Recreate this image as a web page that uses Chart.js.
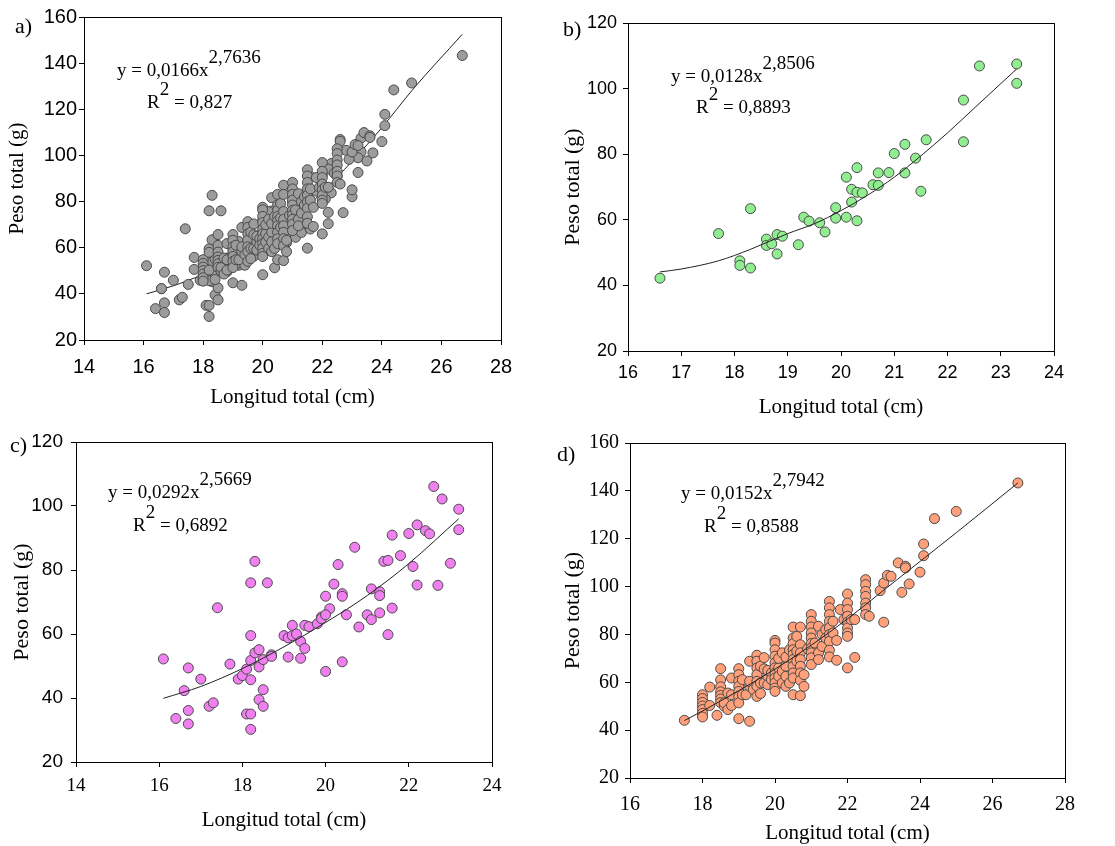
<!DOCTYPE html>
<html>
<head>
<meta charset="utf-8">
<script src="https://cdn.jsdelivr.net/npm/chart.js@4.4.1/dist/chart.umd.min.js"></script>
<style>
  body { margin: 0; background: #fff; width: 1115px; height: 846px; position: relative; overflow: hidden; }
  canvas { position: absolute; }
</style>
</head>
<body>
<canvas id="chartA" width="557" height="420" style="left:0;top:0"></canvas>
<canvas id="chartB" width="558" height="420" style="left:557px;top:0"></canvas>
<canvas id="chartC" width="557" height="426" style="left:0;top:420px"></canvas>
<canvas id="chartD" width="558" height="426" style="left:557px;top:420px"></canvas>
<script>
// b) longitud / peso
const bLen = [16.6, 17.7, 18.3, 18.1, 18.1, 18.3, 18.6, 18.6, 18.7, 18.8, 18.8, 18.9, 19.2, 19.3, 19.4, 19.6, 19.7, 19.9, 19.9, 20.1,
              20.1, 20.2, 20.2, 20.3, 20.3, 20.3, 20.4, 20.6, 20.7, 20.7, 20.9, 21.0, 21.2, 21.2, 21.4, 21.5, 21.6, 22.3, 22.3, 22.6,
              23.3, 23.3];
const bWt  = [42.2, 55.8, 63.4, 47.5, 46.1, 45.3, 54.1, 52.2, 52.7, 55.5, 49.6, 55.0, 52.4, 60.8, 59.6, 59.1, 56.3, 63.7, 60.5, 73.0,
              60.8, 69.3, 65.4, 75.9, 68.4, 59.7, 68.2, 70.7, 74.3, 70.5, 74.4, 80.2, 83.0, 74.3, 78.8, 68.7, 84.4, 96.5, 83.8, 106.9,
              107.5, 101.6];

// c) longitud / peso
const cLen = [16.1, 16.4, 16.6, 16.7, 16.7, 16.7, 17.0, 17.2, 17.3, 17.4, 17.7, 17.9, 18.0, 18.1, 18.1, 18.2, 18.2, 18.2, 18.2, 18.2,
              18.2, 18.3, 18.3, 18.4, 18.4, 18.4, 18.5, 18.5, 18.5, 18.6, 18.7, 18.7, 19.0, 19.1, 19.1, 19.2, 19.2, 19.3, 19.4, 19.4,
              19.5, 19.5, 19.6, 19.8, 19.9, 19.9, 20.0, 20.0, 20.1, 20.0, 20.2, 20.3, 20.4, 20.4, 20.4, 20.5, 20.7, 20.8, 21.0, 21.1,
              21.1, 21.3, 21.3, 21.3, 21.4, 21.5, 21.5, 21.6, 21.6, 21.8, 22.0, 22.1, 22.2, 22.2, 22.4, 22.5, 22.6, 22.7, 22.8, 23.0,
              23.2, 23.2];
const cWt  = [52.2, 33.6, 42.3, 49.4, 36.1, 31.9, 45.9, 37.4, 38.5, 68.2, 50.6, 45.9, 47.0, 49.0, 35.0, 76.0, 59.5, 51.7, 45.7, 35.0,
              30.2, 82.7, 54.1, 55.1, 49.7, 39.5, 52.0, 42.6, 37.4, 76.0, 53.5, 53.0, 59.5, 58.8, 52.8, 62.7, 59.5, 60.0, 57.7, 52.4,
              62.7, 55.5, 62.3, 63.2, 65.3, 64.8, 71.8, 48.3, 67.9, 66.0, 75.6, 81.7, 72.6, 71.8, 51.3, 66.0, 87.1, 62.2, 66.0, 74.1,
              64.5, 73.2, 72.0, 66.6, 82.7, 83.0, 59.8, 90.9, 68.1, 84.5, 91.4, 81.1, 94.1, 75.3, 92.3, 91.3, 106.1, 75.2, 102.2, 82.1,
              99.0, 92.6];

// d) longitud / peso
const dLen = [17.5,
              18.0, 18.0, 18.0, 18.0, 18.0, 18.0, 18.0, 18.2, 18.2, 18.4,
              18.5, 18.5, 18.5, 18.5, 18.5, 18.5, 18.5, 18.6, 18.6, 18.7, 18.7, 18.8, 18.8, 18.8,
              19.0, 19.0, 19.0, 19.0, 19.0, 19.0, 19.0, 19.0, 19.1, 19.1, 19.2, 19.3, 19.3, 19.3, 19.3, 19.4,
              19.5, 19.5, 19.5, 19.5, 19.5, 19.5, 19.5, 19.6, 19.6, 19.6, 19.7, 19.7, 19.7, 19.8, 19.8, 19.8, 19.9, 19.9,
              20.0, 20.0, 20.0, 20.0, 20.0, 20.0, 20.0, 20.0, 20.0, 20.0, 20.0, 20.1, 20.1, 20.1, 20.2, 20.2, 20.2,
              20.3, 20.3, 20.3, 20.3, 20.4, 20.4,
              20.5, 20.5, 20.5, 20.5, 20.5, 20.5, 20.5, 20.5, 20.5, 20.5, 20.6, 20.6, 20.6,
              20.7, 20.7, 20.7, 20.7, 20.7, 20.7, 20.7, 20.7, 20.8, 20.8, 20.9,
              21.0, 21.0, 21.0, 21.0, 21.0, 21.0, 21.0, 21.0, 21.0, 21.0, 21.1, 21.2, 21.2, 21.2, 21.3, 21.3, 21.4, 21.4,
              21.5, 21.5, 21.5, 21.5, 21.5, 21.5, 21.5, 21.5, 21.5, 21.6, 21.6, 21.7, 21.7, 21.8, 21.9,
              22.0, 22.0, 22.0, 22.0, 22.0, 22.0, 22.0, 22.0, 22.0, 22.1, 22.2, 22.2,
              22.5, 22.5, 22.5, 22.5, 22.5, 22.5, 22.5, 22.6, 22.9, 23.0, 23.0, 23.1, 23.2, 23.4, 23.5, 23.6, 23.6, 23.7,
              24.0, 24.1, 24.1, 24.4, 25.0, 26.7];
const dWt  = [44.1,
              54.8, 53.2, 51.6, 50.1, 48.6, 47.0, 45.5, 58.0, 50.3, 46.2,
              65.7, 61.0, 58.1, 56.0, 54.5, 53.0, 51.5, 50.0, 51.4, 55.5, 48.6, 61.8, 54.8, 50.3,
              65.7, 63.2, 60.4, 58.3, 56.2, 54.1, 51.4, 44.8, 54.8, 61.1, 54.8, 68.8, 58.3, 43.7, 60.4, 57.0,
              71.3, 68.8, 66.0, 63.2, 60.4, 58.3, 54.1, 66.7, 59.7, 55.3, 70.3, 65.6, 59.7, 62.5, 59.0, 65.0, 63.9, 61.1,
              77.5, 76.4, 73.6, 70.9, 68.1, 66.0, 63.9, 61.8, 59.7, 57.6, 56.2, 66.0, 62.5, 70.0, 72.3, 64.6, 59.7,
              66.7, 58.3, 62.5, 70.5, 73.6, 59.7,
              83.1, 78.5, 76.2, 73.6, 71.6, 69.5, 66.7, 63.9, 61.8, 54.8, 79.2, 73.0, 68.8,
              83.1, 75.7, 72.3, 69.5, 66.7, 63.9, 60.8, 54.4, 63.2, 58.3, 74.0,
              88.3, 85.5, 83.1, 80.6, 78.5, 76.2, 74.3, 72.3, 70.2, 67.4, 76.4, 83.4, 72.3, 69.5, 75.0, 80.0, 82.0, 78.5,
              93.8, 91.1, 88.3, 85.5, 82.7, 79.9, 77.1, 73.4, 70.6, 85.5, 80.6, 77.5, 69.2, 90.4, 86.2,
              96.9, 93.1, 90.4, 87.6, 85.1, 82.7, 80.6, 79.2, 66.0, 86.2, 86.2, 70.4,
              102.9, 100.8, 98.0, 95.9, 93.1, 91.1, 88.3, 87.6, 98.3, 101.5, 85.1, 104.7, 104.3, 109.9, 97.6, 108.5, 107.8, 101.1,
              106.0, 117.8, 112.9, 128.4, 131.4, 143.3];

// curvas ajustadas
const aCurveX = [16.1, 17, 18, 19, 20, 21, 22, 23, 24, 25, 26.7];
const aCurveY = [40, 43.5, 48.5, 55, 63, 72.5, 84, 97.5, 112, 128, 152.5];
const bCurveX = [16.6, 17, 17.7, 18.3, 19, 19.5, 20, 20.5, 21, 21.5, 22, 22.5, 23.3];
const bCurveY = [44.1, 45, 47.5, 51, 55.8, 58.8, 62.8, 67.5, 73, 79.5, 86.5, 94, 106];
const cCurveX = [16.1, 17, 18, 19, 20, 21, 22, 23.2];
const cCurveY = [39.9, 43.6, 49.2, 56, 63.6, 72, 82, 96];
const dCurveX = [17.5, 18, 19, 20, 21, 22, 23, 24, 25, 26.7];
const dCurveY = [44, 48, 56.5, 65.5, 75.5, 86.5, 98.5, 110.5, 122.5, 143.3];

// a) es el conjunto de todos los datos
const aLen = [...bLen, ...cLen, ...dLen];
const aWt  = [...bWt, ...cWt, ...dWt];

const xTitle = 'Longitud total (cm)';
const yTitle = 'Peso total (g)';

function pairs(xs, ys) {
    return xs.map((x, i) => ({ x: x, y: ys[i] }));
}

// marco completo alrededor del area del grafico
const framePlugin = {
    id: 'frame',
    afterDraw(chart) {
        const { ctx, chartArea: a } = chart;
        ctx.save();
        ctx.strokeStyle = '#000';
        ctx.lineWidth = 1;
        ctx.strokeRect(Math.round(a.left) + 0.5, Math.round(a.top) + 0.5,
                       Math.round(a.right - a.left), Math.round(a.bottom - a.top));
        ctx.restore();
    }
};

// etiqueta del panel y ecuacion
const notesPlugin = {
    id: 'notes',
    afterDraw(chart, args, o) {
        const ctx = chart.ctx;
        ctx.save();
        ctx.fillStyle = '#000';
        ctx.textBaseline = 'alphabetic';
        ctx.textAlign = 'left';
        ctx.font = '22px "Liberation Serif"';
        ctx.fillText(o.label, o.labelX, o.labelY);

        ctx.font = '19px "Liberation Serif"';
        let x = o.eqX;
        ctx.fillText(o.eq, x, o.eqY);
        x += ctx.measureText(o.eq).width;
        ctx.fillText(o.exp, x, o.eqY - 13);

        x = o.rX;
        ctx.fillText('R', x, o.rY);
        x += ctx.measureText('R').width;
        ctx.fillText('2', x, o.rY - 13);
        x += ctx.measureText('2').width;
        ctx.fillText(' = ' + o.r2, x, o.rY);
        ctx.restore();
    }
};

function makeAxis(min, max, step, tickFont, tickPad, size, title, titleSize, titlePad, horizontal) {
    return {
        type: 'linear',
        min: min,
        max: max,
        ticks: { stepSize: step, color: '#000', font: tickFont, padding: tickPad, maxRotation: 0, autoSkip: false },
        grid: { display: true, drawOnChartArea: false, drawTicks: true, tickLength: 5, color: '#000' },
        border: { display: false },
        title: {
            display: true, text: title, color: '#000',
            font: { family: 'Liberation Serif', size: titleSize },
            padding: horizontal ? { top: 0, bottom: titlePad } : { top: titlePad, bottom: 0 }
        },
        afterFit: function(scale) {
            if (horizontal) scale.height = size; else scale.width = size;
        }
    };
}

function makePanel(id, p) {
    const scatter = {
        type: 'scatter',
        data: pairs(p.len, p.wt),
        backgroundColor: p.color,
        borderColor: '#4a4a4a',
        borderWidth: 1,
        pointRadius: 5,
        order: p.lineOnTop ? 2 : 1
    };
    const curve = {
        type: 'line',
        data: pairs(p.curveX, p.curveY),
        borderColor: '#222',
        borderWidth: 1,
        pointRadius: 0,
        fill: false,
        cubicInterpolationMode: 'monotone',
        order: p.lineOnTop ? 1 : 2
    };
    new Chart(document.getElementById(id), {
        type: 'scatter',
        data: { datasets: [scatter, curve] },
        options: {
            responsive: false,
            animation: false,
            layout: { padding: p.pad },
            plugins: { legend: { display: false }, tooltip: { enabled: false }, notes: p.notes },
            scales: { x: p.x, y: p.y }
        },
        plugins: [framePlugin, notesPlugin]
    });
}

const sans = s => ({ family: 'Liberation Sans', size: s });
const serif = s => ({ family: 'Liberation Serif', size: s });

makePanel('chartA', {
    len: aLen, wt: aWt, curveX: aCurveX, curveY: aCurveY, color: '#9c9c9c', lineOnTop: false,
    pad: { left: 0, top: 17, right: 56, bottom: 0 },
    x: makeAxis(14, 28, 2, sans(20), 10, 80, xTitle, 21, 10, true),
    y: makeAxis(20, 160, 20, sans(20), 2, 84, yTitle, 21, 5, false),
    notes: { label: 'a)', labelX: 15, labelY: 33, eq: 'y = 0,0166x', exp: '2,7636', eqX: 117, eqY: 76,
             rX: 147, rY: 108, r2: '0,827' }
});

makePanel('chartB', {
    len: bLen, wt: bWt, curveX: bCurveX, curveY: bCurveY, color: '#90ee90', lineOnTop: true,
    pad: { left: 0, top: 23, right: 61, bottom: 0 },
    x: makeAxis(16, 24, 1, sans(18), 6, 69, xTitle, 21, 0, true),
    y: makeAxis(20, 120, 20, sans(18), 6, 71, yTitle, 22, 3, false),
    notes: { label: 'b)', labelX: 6, labelY: 36, eq: 'y = 0,0128x', exp: '2,8506', eqX: 114, eqY: 82,
             rX: 139, rY: 113, r2: '0,8893' }
});

makePanel('chartC', {
    len: cLen, wt: cWt, curveX: cCurveX, curveY: cCurveY, color: '#f07ff0', lineOnTop: true,
    pad: { left: 0, top: 22, right: 65, bottom: 0 },
    x: makeAxis(14, 24, 2, serif(19), 8, 84, xTitle, 21, 13, true),
    y: makeAxis(20, 120, 20, sans(19), 8, 76, yTitle, 22, 9, false),
    notes: { label: 'c)', labelX: 10, labelY: 32, eq: 'y = 0,0292x', exp: '2,5669', eqX: 108, eqY: 78,
             rX: 133, rY: 111, r2: '0,6892' }
});

makePanel('chartD', {
    len: dLen, wt: dWt, curveX: dCurveX, curveY: dCurveY, color: '#ffa07a', lineOnTop: true,
    pad: { left: 0, top: 23, right: 50, bottom: 0 },
    x: makeAxis(16, 28, 2, serif(20), 10, 68, xTitle, 21, 0, true),
    y: makeAxis(20, 160, 20, serif(20), 6, 73, yTitle, 22, 3, false),
    notes: { label: 'd)', labelX: 0, labelY: 41, eq: 'y = 0,0152x', exp: '2,7942', eqX: 124, eqY: 79,
             rX: 147, rY: 112, r2: '0,8588' }
});
</script>
</body>
</html>
